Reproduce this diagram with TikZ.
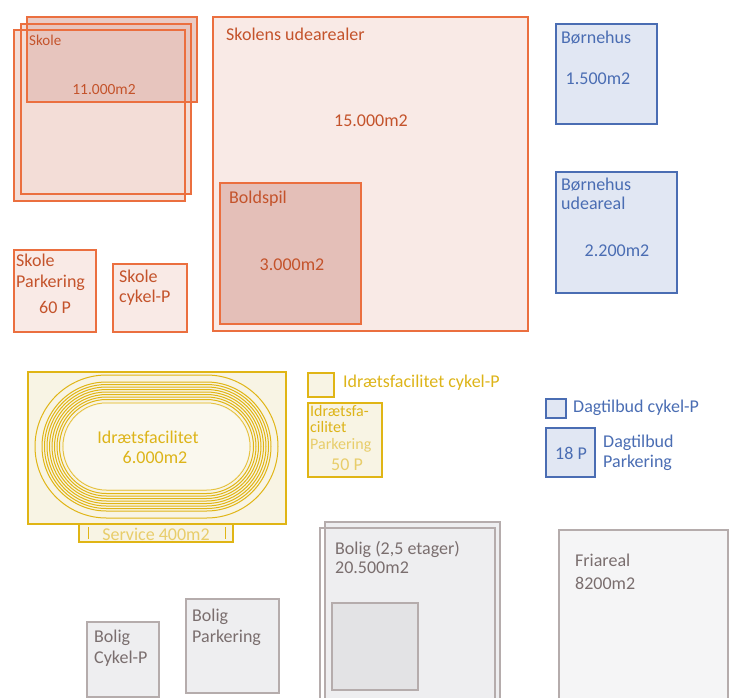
\documentclass[tikz,border=0pt]{standalone}
\usepackage{fontspec}
\setmainfont{Carlito}
\definecolor{ostroke}{HTML}{EB6F3F}
\definecolor{otext}{HTML}{C4532B}
\definecolor{ofill}{HTML}{F3DDD7}
\definecolor{ofilldark}{HTML}{E4BFB8}
\definecolor{ofilllight}{HTML}{F9EAE6}
\definecolor{bstroke}{HTML}{4A6DB3}
\definecolor{bfill}{HTML}{E1E7F3}
\definecolor{gstroke}{HTML}{E0B515}
\definecolor{gfill}{HTML}{F8F4E4}
\definecolor{gtext}{HTML}{DDB419}
\definecolor{gtextlight}{HTML}{E8CD6A}
\definecolor{grstroke}{HTML}{B5ACAC}
\definecolor{grfill}{HTML}{EEEEF0}
\definecolor{grtext}{HTML}{7A6E6E}
\tikzset{
  obox/.style={draw=ostroke, line width=2pt, fill=ofill},
  bbox/.style={draw=bstroke, line width=2pt, fill=bfill},
  gbox/.style={draw=gstroke, line width=2pt, fill=gfill},
  grbox/.style={draw=grstroke, line width=1.6pt, fill=grfill},
  lbl/.style={inner sep=0pt, font=\fontsize{18}{21}\selectfont, align=left},
  olbl/.style={lbl, text=otext},
  blbl/.style={lbl, text=bstroke},
  glbl/.style={lbl, text=gtext},
  grlbl/.style={lbl, text=grtext},
  track/.style={draw=gstroke, line width=1pt},
}
\begin{document}
\begin{tikzpicture}[x=1pt,y=-1pt]
\useasboundingbox (0,0) rectangle (729,697);
% ---------- Skole ----------
\fill[ofill] (14,30) rectangle (185,201);
\fill[ofill] (21,24) rectangle (191,194);
\fill[ofilldark, opacity=0.8] (27,17) rectangle (197,102);
\draw[ostroke, line width=2pt] (14,30) rectangle (185,201);
\draw[ostroke, line width=2pt] (21,24) rectangle (191,194);
\draw[ostroke, line width=2pt] (27,17) rectangle (197,102);
\node[olbl, anchor=west, font=\fontsize{15}{17}\selectfont] (skole) at (29,40) {Skole};
\node[olbl, font=\fontsize{15.5}{17}\selectfont] (skoleA) at (104,90) {11.000m2};
% ---------- Skolens udearealer ----------
\draw[obox, fill=ofilllight] (213,17) rectangle (528,331);
\node[olbl, anchor=west] (ude) at (226,34) {Skolens udearealer};
\node[olbl] (udeA) at (371,121) {15.000m2};
\draw[obox, fill=ofilldark] (220,183) rectangle (361,324);
\node[olbl, anchor=west] (bold) at (229,199) {Boldspil};
\node[olbl] (boldA) at (292,265) {3.000m2};
% ---------- Skole parkering ----------
\draw[obox, fill=ofilllight] (14,250) rectangle (96,332);
\node[olbl, anchor=west] (spark) at (16,272.5) {Skole\\Parkering};
\node[olbl] (sparkP) at (55,307) {60 P};
\draw[obox, fill=ofilllight] (113,264) rectangle (187,332);
\node[olbl, anchor=west, font=\fontsize{18}{20}\selectfont] (scyk) at (119,288) {Skole\\cykel-P};
% ---------- Børnehus ----------
\draw[bbox] (556,24) rectangle (657,124);
\node[blbl, anchor=west] (bh) at (561,38) {Børnehus};
\node[blbl] (bhA) at (598,79) {1.500m2};
\draw[bbox] (556,172) rectangle (677,293);
\node[blbl, anchor=west, font=\fontsize{18}{18.5}\selectfont] (bhu) at (561,194) {Børnehus\\udeareal};
\node[blbl] (bhuA) at (617,251) {2.200m2};
% ---------- Idrætsfacilitet ----------
\draw[gbox] (79,524) rectangle (233,542);
\draw[gstroke, line width=1pt] (88,527) -- (88,539);
\draw[gstroke, line width=1pt] (225,527) -- (225,539);
\node[lbl, text=gtextlight] (serv) at (156,534) {Service 400m2};
\draw[gbox] (28,372) rectangle (286,524);
\foreach \d in {0,7,9.5,12,14.5,17,19.5,22,24.5,28}{
  \pgfmathsetmacro{\hh}{71.5-\d}
  \draw[track, rounded corners=\hh pt] (35+\d,375+\d) rectangle (278-\d,518-\d);
}
\fill[white, opacity=0.4, rounded corners=43.5pt] (63,403) rectangle (250,490);
\node[glbl] (idr) at (148,437) {Idrætsfacilitet};
\node[glbl] (idrA) at (155,457) {6.000m2};
% ---------- Idræt cykel / parkering ----------
\draw[gbox] (308,373) rectangle (334,397);
\node[glbl, anchor=west] (icyk) at (343,383) {Idrætsfacilitet cykel-P};
\draw[gbox] (308,403) rectangle (382,477);
\node[glbl, anchor=west, font=\fontsize{16}{16.5}\selectfont] (ipark) at (310,428.5) {Idrætsfa-\\cilitet\\\textcolor{gtextlight}{Parkering}};
\node[lbl, text=gtextlight] (iparkN) at (347,465) {50 P};
% ---------- Dagtilbud ----------
\draw[bbox] (546,399) rectangle (566,418);
\node[blbl, anchor=west] (dcyk) at (573,408) {Dagtilbud cykel-P};
\draw[bbox] (546,428) rectangle (595,477);
\node[blbl] (dP) at (571,453) {18 P};
\node[blbl, anchor=west, font=\fontsize{18}{20}\selectfont] (dpark) at (603,453) {Dagtilbud\\Parkering};
% ---------- Bolig ----------
\draw[grbox] (325,522) rectangle (500,700);
\draw[grbox, fill=none] (320,528) rectangle (495,700);
\draw[grbox, fill=grfill!90!gray] (332,603) rectangle (418,690);
\node[grlbl, anchor=west, font=\fontsize{18}{19}\selectfont] (bol) at (335,557.5) {Bolig (2,5 etager)\\20.500m2};
% ---------- Friareal ----------
\draw[grbox, fill=grfill!60!white] (559,530) rectangle (728,700);
\node[grlbl, anchor=west, font=\fontsize{18}{23}\selectfont] (fri) at (575,571.5) {Friareal\\ 8200m2};
% ---------- Bolig cykel / parkering ----------
\draw[grbox] (87,622) rectangle (159,697);
\node[grlbl, anchor=west] (bcyk) at (94,648.5) {Bolig\\Cykel-P};
\draw[grbox] (186,599) rectangle (279,693);
\node[grlbl, anchor=west] (bpark) at (192,627.5) {Bolig\\Parkering};
\end{tikzpicture}
\end{document}
